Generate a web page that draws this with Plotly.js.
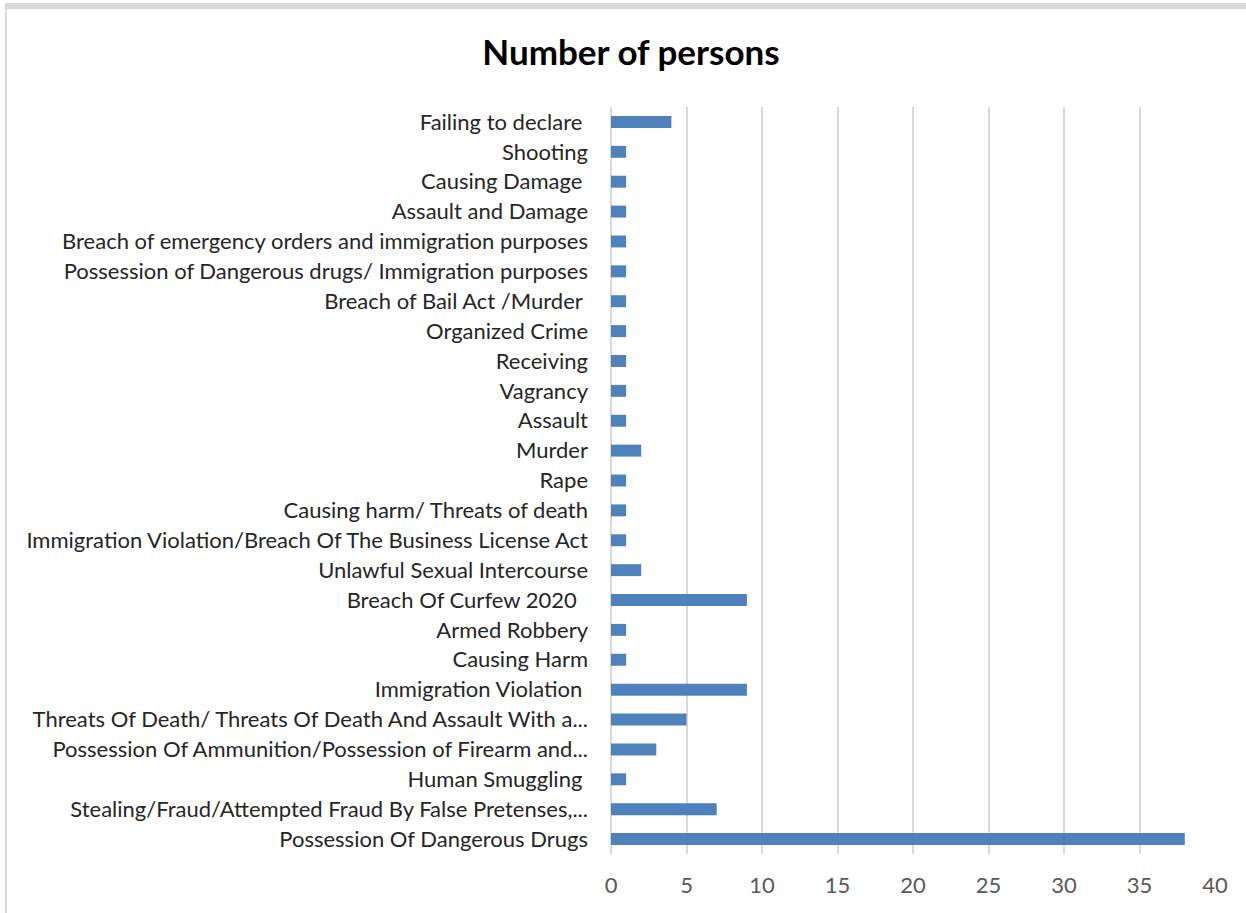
<!DOCTYPE html>
<html>
<head>
<meta charset="utf-8">
<script src="https://cdn.plot.ly/plotly-3.0.1.min.js"></script>
<style>
  html, body { margin: 0; padding: 0; background: #ffffff; }
  #chart { position: absolute; left: 0; top: 0; width: 1246px; height: 913px; }
  #frame { position: absolute; left: 5px; top: 3px; width: 1241px; height: 910px;
           box-sizing: border-box; border-top: 6px solid #d9d9d9; border-left: 2px solid #d9d9d9;
           pointer-events: none; }
</style>
</head>
<body>
<div id="chart"></div>
<div id="frame"></div>
<script>
// Categories, top to bottom as shown
const categories = [
  "Failing to declare\u00a0",
  "Shooting",
  "Causing Damage\u00a0",
  "Assault and Damage",
  "Breach of emergency orders and immigration purposes",
  "Possession of Dangerous drugs/ Immigration purposes",
  "Breach of Bail Act /Murder\u00a0",
  "Organized Crime",
  "Receiving",
  "Vagrancy",
  "Assault",
  "Murder",
  "Rape",
  "Causing harm/ Threats of death",
  "Immigration Violation/Breach Of The Business License Act",
  "Unlawful Sexual Intercourse",
  "Breach Of Curfew 2020\u00a0\u00a0",
  "Armed Robbery",
  "Causing Harm",
  "Immigration Violation\u00a0",
  "Threats Of Death/ Threats Of Death And Assault With a...",
  "Possession Of Ammunition/Possession of Firearm and...",
  "Human Smuggling\u00a0",
  "Stealing/Fraud/Attempted Fraud By False Pretenses,...",
  "Possession Of Dangerous Drugs"
];
const persons = [4, 1, 1, 1, 1, 1, 1, 1, 1, 1, 1, 2, 1, 1, 1, 2, 9, 1, 1, 9, 5, 3, 1, 7, 38];
const xTicks = [0, 5, 10, 15, 20, 25, 30, 35, 40];

const font = "Lato, 'Open Sans', sans-serif";

const trace = {
  type: 'bar',
  orientation: 'h',
  y: categories,
  x: persons,
  marker: { color: '#4f81bd' },
  hoverinfo: 'x+y'
};

const layout = {
  width: 1246,
  height: 913,
  margin: { l: 611, r: 31, t: 107, b: 59, pad: 0 },
  paper_bgcolor: 'rgba(0,0,0,0)',
  plot_bgcolor: 'rgba(0,0,0,0)',
  showlegend: false,
  bargap: 0.6,
  title: {
    text: '<b>Number of persons</b>',
    font: { family: font, size: 35, color: '#000000' },
    xref: 'container', x: 0.5064, xanchor: 'center',
    yref: 'container', y: 1 - 53 / 913, yanchor: 'middle'
  },
  xaxis: {
    range: [0, 40],
    tickvals: xTicks,
    ticktext: xTicks.map(String),
    showgrid: true,
    gridcolor: '#d9d9d9',
    gridwidth: 1.5,
    zeroline: true,
    zerolinecolor: '#d9d9d9',
    zerolinewidth: 1.5,
    showline: false,
    ticks: '',
    ticklabelstandoff: 16,
    tickfont: { family: font, size: 22, color: '#595959' },
    fixedrange: true
  },
  yaxis: {
    type: 'category',
    autorange: 'reversed',
    showgrid: false,
    zeroline: false,
    showline: false,
    ticks: '',
    ticklabelstandoff: 22,
    tickfont: { family: font, size: 22, color: '#262626' },
    fixedrange: true
  }
};

Plotly.newPlot('chart', [trace], layout, { displayModeBar: false, staticPlot: false });
</script>
</body>
</html>
